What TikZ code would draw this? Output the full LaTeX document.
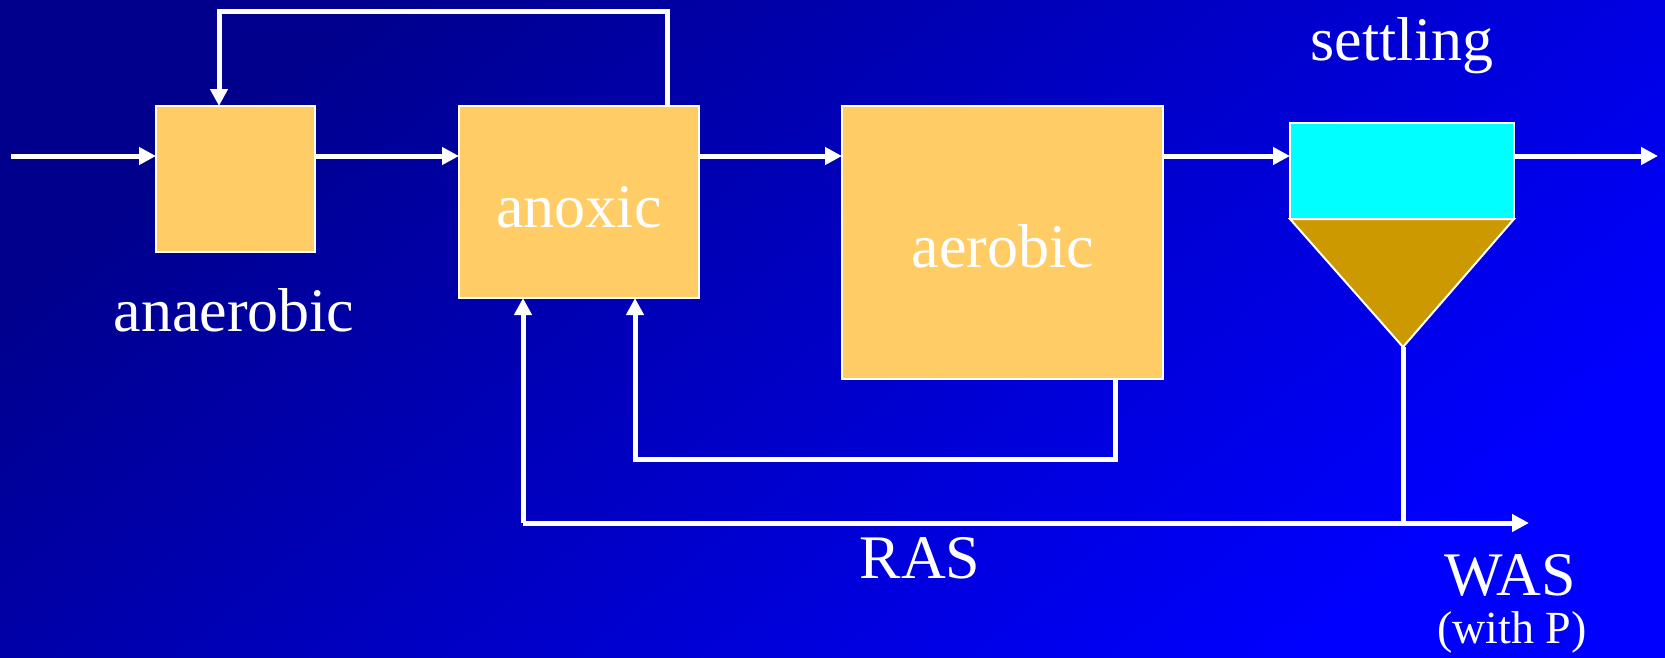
\documentclass[tikz,border=0pt]{standalone}
\usepackage{fontspec}
\setmainfont{Liberation Serif}
\usetikzlibrary{arrows.meta,calc}
\definecolor{bgdark}{RGB}{0,0,140}
\definecolor{bglight}{RGB}{0,0,255}
\definecolor{tank}{HTML}{FFCC66}
\definecolor{clear}{HTML}{00FFFF}
\definecolor{sludge}{HTML}{CC9900}
\tikzset{
  tankbox/.style={draw=white, line width=2pt, fill=tank, inner sep=0pt, outer sep=0pt, anchor=north west},
  flow/.style={draw=white, line width=5pt, -{Triangle[length=17pt,width=17pt]}},
  pipe/.style={draw=white, line width=5pt},
  lbl/.style={text=white, anchor=base, inner sep=0pt, font=\fontsize{62}{70}\selectfont},
  small/.style={text=white, anchor=base, inner sep=0pt, font=\fontsize{46}{52}\selectfont}
}
\begin{document}
\begin{tikzpicture}[x=1pt,y=-1pt]
\useasboundingbox (0,0) rectangle (1665,657);
\shade[top color=bgdark, bottom color=bglight, shading angle=40] (0,0) rectangle (1665,657);

% tanks
\node[tankbox, minimum width=159pt, minimum height=146pt] (anaer) at (156,106) {};
\node[tankbox, minimum width=240pt, minimum height=192pt] (anox) at (459,106) {};
\node[tankbox, minimum width=321pt, minimum height=273pt] (aer) at (842,106) {};
\node[tankbox, fill=clear, minimum width=224pt, minimum height=96pt] (settle) at (1290,123) {};
\coordinate (apex) at (1403,347);
\filldraw[draw=white, line width=2pt, fill=sludge] (settle.south west) -- (settle.south east) -- (apex) -- cycle;

% labels
\node[lbl] (lanaer) at (234,331) {anaerobic};
\node[lbl] (lanox) at (579,227) {anoxic};
\node[lbl] (laer) at (1003,267) {aerobic};
\node[lbl] (lsettle) at (1402,60) {settling};
\node[lbl] (lras) at (920,578) {RAS};
\node[lbl] (lwas) at (1510,595) {WAS};
\node[small] (lwithp) at (1512,643) {(with P)};

% main flow
\coordinate (inflow) at (11,156);
\coordinate (outflow) at (1658,156);
\draw[flow] (inflow) -- (inflow -| anaer.west);
\draw[flow] (inflow -| anaer.east) -- (inflow -| anox.west);
\draw[flow] (inflow -| anox.east) -- (inflow -| aer.west);
\draw[flow] (inflow -| aer.east) -- (inflow -| settle.west);
\draw[flow] (inflow -| settle.east) -- (outflow);

% recycle from anoxic to anaerobic
\draw[flow] ([xshift=-32pt]anox.north east) -- ++(0,-95) -| ([xshift=63pt]anaer.north west);

% internal recycle aerobic -> anoxic
\draw[flow] ([xshift=-48pt]aer.south east) -- ++(0,80) -| ([xshift=176pt]anox.south west);

% RAS / WAS
\coordinate (ras) at (523,523);
\coordinate (was) at (1529,523);
\draw[pipe] (apex) -- (apex |- ras);
\draw[flow] (ras) -- (was);
\draw[flow] (ras) -- (ras |- anox.south);
\end{tikzpicture}
\end{document}
